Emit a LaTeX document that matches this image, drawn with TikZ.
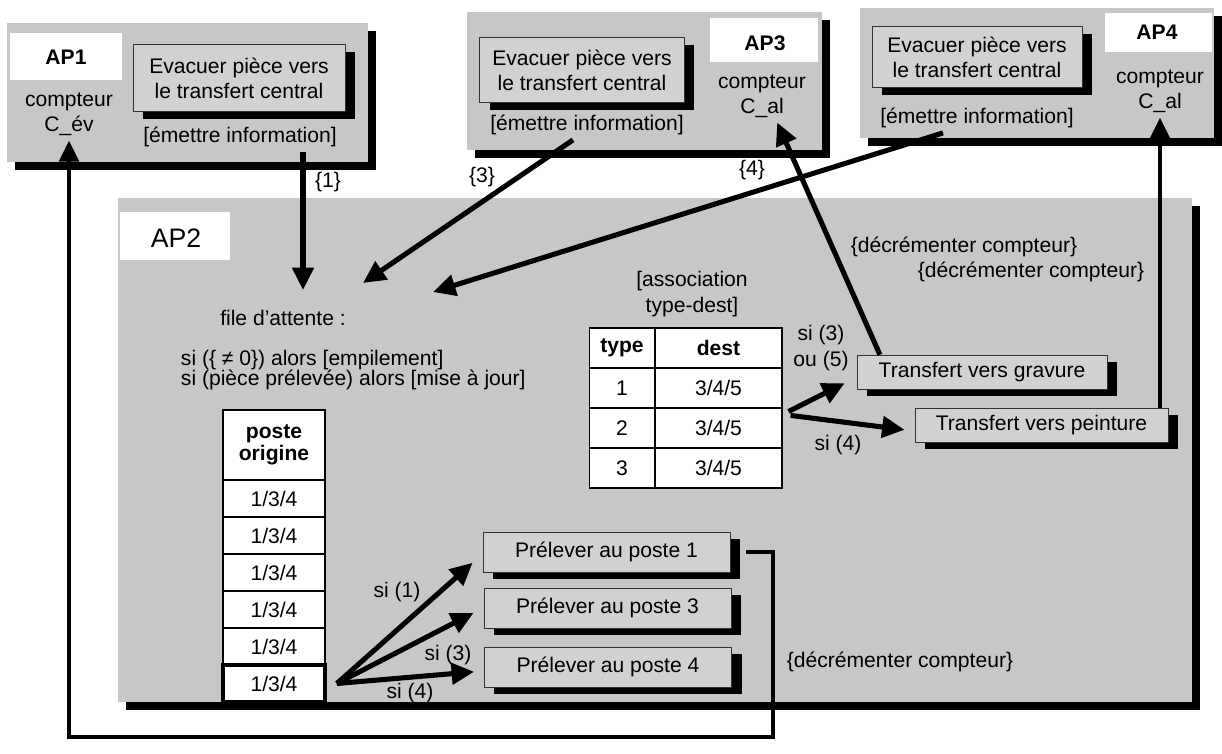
\documentclass[tikz,border=0pt]{standalone}
\usepackage{fontspec}
\setmainfont{Liberation Sans}
\usetikzlibrary{arrows.meta,shadows}

\begin{document}
\begin{tikzpicture}[x=.025cm,y=-.025cm,font=\fontsize{15}{18}\selectfont,
    zone/.style={fill=black!22,drop shadow={shadow xshift=.2cm,shadow yshift=-.2cm,opacity=1,fill=black}},
    task/.style={draw=black!80,fill=black!18,align=center,inner sep=0pt,
      drop shadow={shadow xshift=.25cm,shadow yshift=-.18cm,opacity=1,fill=black}},
    cell/.style={draw,fill=white,inner sep=0pt,line width=.8pt},
    flow/.style={line width=3.6pt,-{Triangle[length=16pt,width=15pt]}},
    back/.style={line width=2.8pt,-{Triangle[length=15pt,width=14pt]}}]
  \useasboundingbox (0,0) rectangle (1222,754);

  % AP1
  \path[zone] (7,23) rectangle (368,162);
  \fill[white] (10,33) rectangle (122,80);
  \node (ap1) at (66,57) {\textbf{AP1}};
  \node[align=center] (cev) at (69,114) {compteur\\C\_év};
  \node[task,minimum width=5.3cm,minimum height=1.68cm] (ev1) at (239,78)
    {Evacuer pièce vers\\le transfert central};
  \node (em1) at (240,137) {[émettre information]};

  % AP3
  \path[zone] (467,12) rectangle (822,150);
  \fill[white] (710,18) rectangle (818,62);
  \node (ap3) at (765,43) {\textbf{AP3}};
  \node[align=center] (cal3) at (762,96) {compteur\\C\_al};
  \node[task,minimum width=5.12cm,minimum height=1.62cm] (ev3) at (582,70)
    {Evacuer pièce vers\\le transfert central};
  \node (em3) at (587,125) {[émettre information]};

  % AP4
  \path[zone] (860,8) rectangle (1214,138);
  \fill[white] (1105,13) rectangle (1212,52);
  \node (ap4) at (1157,32) {\textbf{AP4}};
  \node[align=center] (cal4) at (1160,91) {compteur\\C\_al};
  \node[task,minimum width=5.25cm,minimum height=1.52cm] (ev4) at (977,57)
    {Evacuer pièce vers\\le transfert central};
  \node (em4) at (977,118) {[émettre information]};

  % AP2
  \path[zone] (118,198) rectangle (1192,702);
  \fill[white] (120,212) rectangle (230,260);
  \node (ap2) at (176,238) {\fontsize{19}{22}\selectfont AP2};
  \node (file) at (283,318) {file d'attente :};
  \node[align=left,anchor=west] (cond) at (176,370)
    {si (\{ ≠ 0\}) alors [empilement]\\[-4pt]si (pièce prélevée) alors [mise à jour]};

  % poste origine
  \node[cell,minimum width=2.55cm,minimum height=1.75cm,align=center] (po) at (274,445)
    {\textbf{poste}\\[-2pt]\textbf{origine}};
  \node[cell,minimum width=2.55cm,minimum height=.925cm] (p1) at (274,498.5) {1/3/4};
  \node[cell,minimum width=2.55cm,minimum height=.925cm] (p2) at (274,535.5) {1/3/4};
  \node[cell,minimum width=2.55cm,minimum height=.925cm] (p3) at (274,572.5) {1/3/4};
  \node[cell,minimum width=2.55cm,minimum height=.925cm] (p4) at (274,609.5) {1/3/4};
  \node[cell,minimum width=2.55cm,minimum height=.925cm] (p5) at (274,646.5) {1/3/4};
  \node[cell,line width=2.6pt,minimum width=2.55cm,minimum height=.925cm] (p6) at (274,683.5) {1/3/4};

  % association type-dest
  \node[align=center] (assoc) at (692,294) {[association\\type-dest]};
  \node[cell,minimum width=1.625cm,minimum height=1cm] (th) at (622,348) {\textbf{type}};
  \node[cell,minimum width=3.175cm,minimum height=1cm] (dh) at (718.5,348) {\textbf{dest}};
  \node[cell,minimum width=1.625cm,minimum height=1cm] (t1) at (622,388) {1};
  \node[cell,minimum width=3.175cm,minimum height=1cm] (d1) at (718.5,388) {3/4/5};
  \node[cell,minimum width=1.625cm,minimum height=1cm] (t2) at (622,428) {2};
  \node[cell,minimum width=3.175cm,minimum height=1cm] (d2) at (718.5,428) {3/4/5};
  \node[cell,minimum width=1.625cm,minimum height=1cm] (t3) at (622,468) {3};
  \node[cell,minimum width=3.175cm,minimum height=1cm] (d3) at (718.5,468) {3/4/5};

  % transferts et prelevements
  \node[task,minimum width=6.25cm,minimum height=.85cm] (grav) at (982,372) {Transfert vers gravure};
  \node[task,minimum width=6.33cm,minimum height=.85cm] (pein) at (1041.5,425) {Transfert vers peinture};
  \node[task,minimum width=6.18cm,minimum height=1cm] (pr1) at (606.5,552) {Prélever au poste 1};
  \node[task,minimum width=6.18cm,minimum height=1cm] (pr3) at (607.5,608) {Prélever au poste 3};
  \node[task,minimum width=6.18cm,minimum height=1cm] (pr4) at (608,667) {Prélever au poste 4};

  % labels
  \node (dec1) at (964,247) {\{décrémenter compteur\}};
  \node (dec2) at (1031,272) {\{décrémenter compteur\}};
  \node (dec3) at (900,662) {\{décrémenter compteur\}};
  \node[align=center] (s35) at (821,348) {si (3)\\ou (5)};
  \node (s4) at (838,445) {si (4)};
  \node (s1) at (397,592) {si (1)};
  \node (s3) at (448,655) {si (3)};
  \node (s4b) at (410,693) {si (4)};
  \node (n1) at (328,182) {\{1\}};
  \node (n3) at (482,177) {\{3\}};
  \node (n4) at (752,170) {\{4\}};

  % connectors
  \coordinate (in1) at (303,290);
  \coordinate (in3) at (363,283);
  \coordinate (in4) at (433,292);
  \coordinate (ret) at (773,737);
  \draw[flow] (em1.south -| in1) -- (in1);
  \draw[flow] ([xshift=-.35cm]em3.south) -- (in3);
  \draw[flow] ([xshift=-.85cm]em4.south) -- (in4);
  \draw[flow] ([xshift=.58cm]grav.north west) -- ([xshift=.38cm]cal3.south);
  \draw[back] (cal4.south |- pein.north) -- (cal4.south);
  \draw[flow] ([xshift=.15cm,yshift=-.1cm]d2.north east) -- ([xshift=-.3cm,yshift=-.28cm]grav.west);
  \draw[flow] ([xshift=.2cm,yshift=-.2cm]d2.north east) -- ([xshift=-.25cm,yshift=-.12cm]pein.west);
  \draw[flow] ([xshift=.25cm]p6.east) -- ([xshift=-.25cm,yshift=-.27cm]pr1.west);
  \draw[flow] ([xshift=.25cm]p6.east) -- ([xshift=-.25cm,yshift=-.12cm]pr3.west);
  \draw[flow] ([xshift=.25cm]p6.east) -- ([xshift=-.25cm,yshift=-.12cm]pr4.west);
  \draw[back] ([xshift=.4cm]pr1.east) -| (ret) -| (cev.south);
\end{tikzpicture}
\end{document}
